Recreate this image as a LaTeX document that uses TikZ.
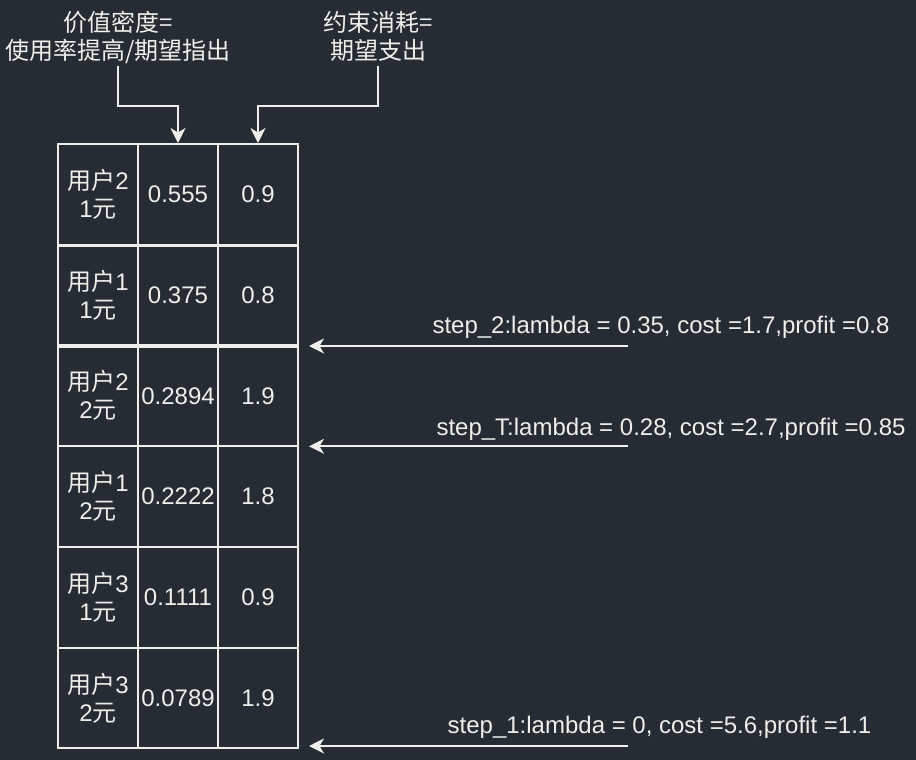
\documentclass[tikz,border=0pt]{standalone}
\usepackage{fontspec}
\setmainfont{Liberation Sans}
\newfontfamily\cjk{Noto Sans CJK SC}
\usetikzlibrary{arrows.meta}
\definecolor{bg}{RGB}{38,44,52}
\definecolor{fg}{RGB}{238,238,234}
\begin{document}
\begin{tikzpicture}[x=1pt,y=-1pt,
  txt/.style={text=fg,font=\fontsize{24}{28}\selectfont,align=center,inner sep=0pt},
  cell/.style={txt,draw=fg,line width=2pt,minimum width=80pt,minimum height=100.7pt,anchor=center},
  arr/.style={draw=fg,line width=2pt,-{Stealth[length=15pt,width=15pt,inset=4.5pt]}},
  sep/.style={draw=fg,line width=3.5pt}]
\fill[bg] (0,0) rectangle (916,760);
\useasboundingbox (0,0) rectangle (916,760);
% table
\node[cell] (c11) at (98,194.35) {{\cjk 用户}2\\1{\cjk 元}};
\node[cell] (c12) at (178,194.35) {0.555};
\node[cell] (c13) at (258,194.35) {0.9};
\node[cell] (c21) at (98,295.05) {{\cjk 用户}1\\1{\cjk 元}};
\node[cell] (c22) at (178,295.05) {0.375};
\node[cell] (c23) at (258,295.05) {0.8};
\node[cell] (c31) at (98,395.75) {{\cjk 用户}2\\2{\cjk 元}};
\node[cell] (c32) at (178,395.75) {0.2894};
\node[cell] (c33) at (258,395.75) {1.9};
\node[cell] (c41) at (98,496.45) {{\cjk 用户}1\\2{\cjk 元}};
\node[cell] (c42) at (178,496.45) {0.2222};
\node[cell] (c43) at (258,496.45) {1.8};
\node[cell] (c51) at (98,597.15) {{\cjk 用户}3\\1{\cjk 元}};
\node[cell] (c52) at (178,597.15) {0.1111};
\node[cell] (c53) at (258,597.15) {0.9};
\node[cell] (c61) at (98,697.85) {{\cjk 用户}3\\2{\cjk 元}};
\node[cell] (c62) at (178,697.85) {0.0789};
\node[cell] (c63) at (258,697.85) {1.9};
\draw[sep] (c11.south west) -- (c13.south east);
\draw[sep] (c21.south west) -- (c23.south east);
% top labels
\node[txt,anchor=north] (t1) at (118,11) {\cjk 价值密度=\\\cjk 使用率提高/期望指出};
\node[txt,anchor=north] (t2) at (378,11) {\cjk 约束消耗=\\\cjk 期望支出};
\coordinate (t1b) at (118,66);
\coordinate (t2b) at (378,66);
\draw[arr] (t1b) -- (118,106) -| (c12.north);
\draw[arr] (t2b) -- (378,106) -| (c13.north);
% step labels
\node[txt] (s2) at (661,327) {step\_2:lambda = 0.35, cost =1.7,profit =0.8};
\node[txt] (sT) at (671,429) {step\_T:lambda = 0.28, cost =2.7,profit =0.85};
\node[txt] (s1) at (659.5,727) {step\_1:lambda = 0, cost =5.6,profit =1.1};
\coordinate (s2a) at (628,346);
\coordinate (sTa) at (628,446.3);
\coordinate (s1a) at (628,746);
\draw[arr] (s2a) -- ([xshift=10pt]s2a -| c23.east);
\draw[arr] (sTa) -- ([xshift=10pt]sTa -| c33.east);
\draw[arr] (s1a) -- ([xshift=10pt]s1a -| c63.east);
\end{tikzpicture}
\end{document}
